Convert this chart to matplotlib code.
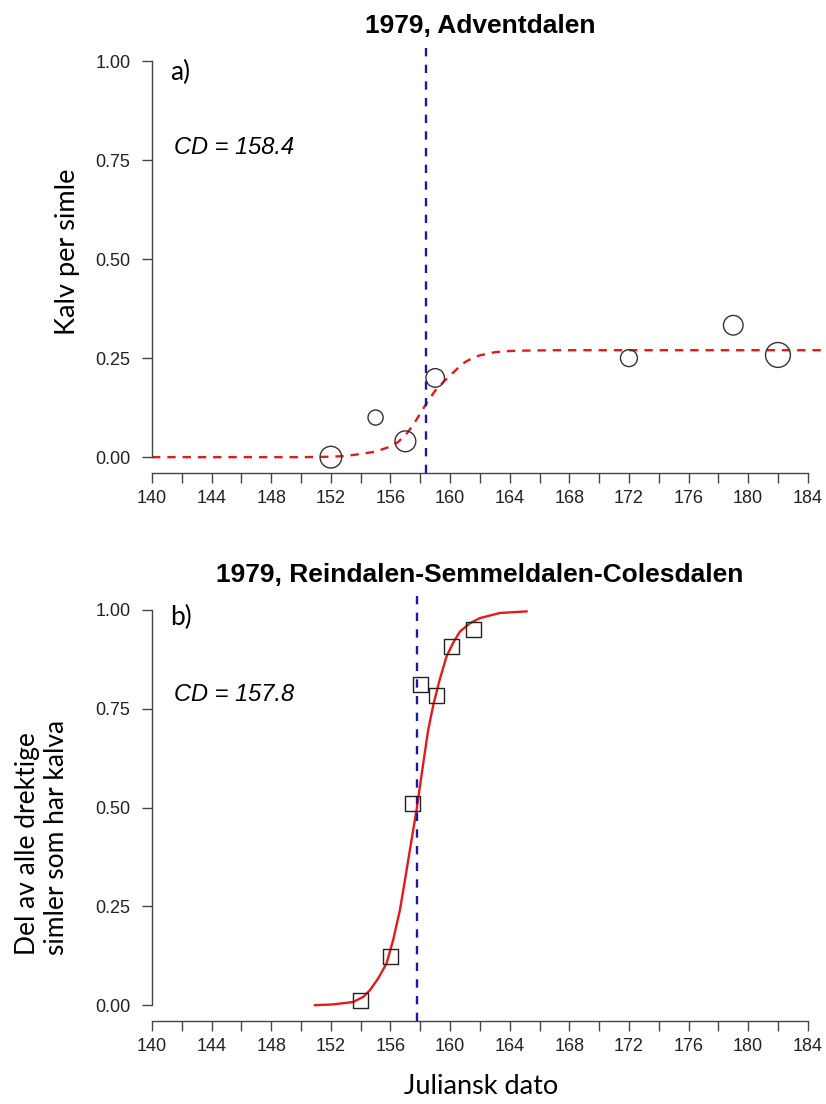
import matplotlib
matplotlib.use("Agg")
import matplotlib.pyplot as plt
import numpy as np

plt.rcParams['lines.scale_dashes'] = False

# panel a) 1979, Adventdalen
a_day = [152, 155, 157, 159, 172, 179, 182]
a_prop = [0.00, 0.10, 0.04, 0.20, 0.25, 0.333, 0.258]
a_size = [15.6, 10.9, 15.0, 13.4, 12.2, 14.1, 17.9]   # marker diameters (pt)
a_fit_x = [140, 150, 152, 153, 154, 155, 156, 156.5, 157, 157.5, 158, 158.4,
           159, 159.5, 160, 160.5, 161, 161.5, 162, 163, 164, 165, 167, 186]
a_fit_y = [0, 0, 0.001, 0.003, 0.008, 0.014, 0.027, 0.038, 0.055, 0.08, 0.11,
           0.135, 0.168, 0.188, 0.206, 0.224, 0.24, 0.25, 0.257, 0.265, 0.268,
           0.269, 0.27, 0.27]
a_cd = 158.4

# panel b) 1979, Reindalen-Semmeldalen-Colesdalen
b_day = [154.0, 156.0, 157.5, 158.0, 159.1, 160.1, 161.6]
b_prop = [0.013, 0.124, 0.51, 0.811, 0.783, 0.907, 0.951]
b_fit_x = [150.93, 152.16, 153.5, 154.17, 154.62, 155.18, 155.74, 156.18,
           156.63, 156.97, 157.3, 157.75, 158.2, 158.53, 158.87, 159.3,
           159.76, 160.2, 160.66, 161.33, 162.0, 163.34, 165.13]
b_fit_y = [0.0, 0.002, 0.008, 0.021, 0.038, 0.068, 0.106, 0.165, 0.24, 0.316,
           0.392, 0.494, 0.612, 0.696, 0.759, 0.823, 0.882, 0.916, 0.945,
           0.966, 0.979, 0.992, 0.996]
b_cd = 157.8

x_ticks = np.arange(140, 185, 2)
x_labels = [str(t) if t % 4 == 0 else "" for t in x_ticks]
y_ticks = [0, 0.25, 0.5, 0.75, 1.0]
y_labels = ["0.00", "0.25", "0.50", "0.75", "1.00"]

W, H = 826, 1104
fig = plt.figure(figsize=(W / 100, H / 100), dpi=100)

def px_axes(x0, y0, x1, y1):
    return fig.add_axes([x0 / W, 1 - y1 / H, (x1 - x0) / W, (y1 - y0) / H])

ax_a = px_axes(125.8, 45.2, 834, 473)
ax_b = px_axes(125.8, 594.0, 834, 1021)

axis_col = "#444444"

def style(ax, title):
    ax.set_xlim(138.24, 185.76)
    ax.set_ylim(-0.04, 1.04)
    for s in ["top", "right"]:
        ax.spines[s].set_visible(False)
    ax.spines["left"].set_position(("data", 140))
    ax.spines["left"].set_bounds(0, 1)
    ax.spines["bottom"].set_bounds(140, 184)
    for s in ["left", "bottom"]:
        ax.spines[s].set_color(axis_col)
        ax.spines[s].set_linewidth(1.0)
    ax.set_xticks(x_ticks)
    ax.set_xticklabels(x_labels)
    ax.set_yticks(y_ticks)
    ax.set_yticklabels(y_labels)
    ax.tick_params(axis="x", length=7.5, width=1.0, color=axis_col, pad=5,
                   labelsize=13)
    ax.tick_params(axis="y", length=7.5, width=1.0, color=axis_col, pad=8,
                   labelsize=13)
    for lab in ax.get_xticklabels() + ax.get_yticklabels():
        lab.set_fontfamily("Liberation Sans")
        lab.set_color("#222222")
    ax.set_title(title, fontsize=19, fontweight="bold",
                 fontfamily="Liberation Sans", pad=9)
    ax.patch.set_alpha(0)

style(ax_a, "1979, Adventdalen")
style(ax_b, "1979, Reindalen-Semmeldalen-Colesdalen")

# panel a
ax_a.plot(a_fit_x, a_fit_y, color="#e31a1c", lw=1.7, dashes=(6, 5), zorder=2)
ax_a.axvline(a_cd, color="#1a1a9a", lw=1.7, dashes=(6, 6), zorder=3)
ax_a.scatter(a_day, a_prop, s=np.array(a_size) ** 2, facecolors="none",
             edgecolors="#333333", linewidths=1.0, zorder=4)
ax_a.text(141.2, 0.972, "a)", fontsize=19, fontfamily="Lato", va="center",
          ha="left")
ax_a.text(141.5, 0.783, "CD = 158.4", fontsize=17, style="italic",
          fontfamily="Liberation Sans", va="center", ha="left")

# panel b
ax_b.plot(b_fit_x, b_fit_y, color="#e31a1c", lw=1.7, zorder=2)
ax_b.axvline(b_cd, color="#1a1a9a", lw=1.7, dashes=(6, 6), zorder=3)
ax_b.scatter(b_day, b_prop, s=10.8 ** 2, marker="s", facecolors="none",
             edgecolors="#222222", linewidths=1.0, zorder=4)
ax_b.text(141.2, 0.98, "b)", fontsize=19, fontfamily="Lato", va="center",
          ha="left")
ax_b.text(141.5, 0.785, "CD = 157.8", fontsize=17, style="italic",
          fontfamily="Liberation Sans", va="center", ha="left")

# axis labels
fig.text(68 / W, 1 - 252 / H, "Kalv per simle", rotation=90, fontsize=19.5,
         fontfamily="Lato", ha="center", va="center")
fig.text(42 / W, 1 - 955 / H, "Del av alle drektige\nsimler som har kalva",
         rotation=90, fontsize=19, fontfamily="Lato", ha="center",
         va="bottom", linespacing=1.2, multialignment="left")
fig.text(481 / W, 1 - 1086 / H, "Juliansk dato", fontsize=19.5,
         fontfamily="Lato", ha="center", va="center")

fig.savefig("out.png", dpi=100)
